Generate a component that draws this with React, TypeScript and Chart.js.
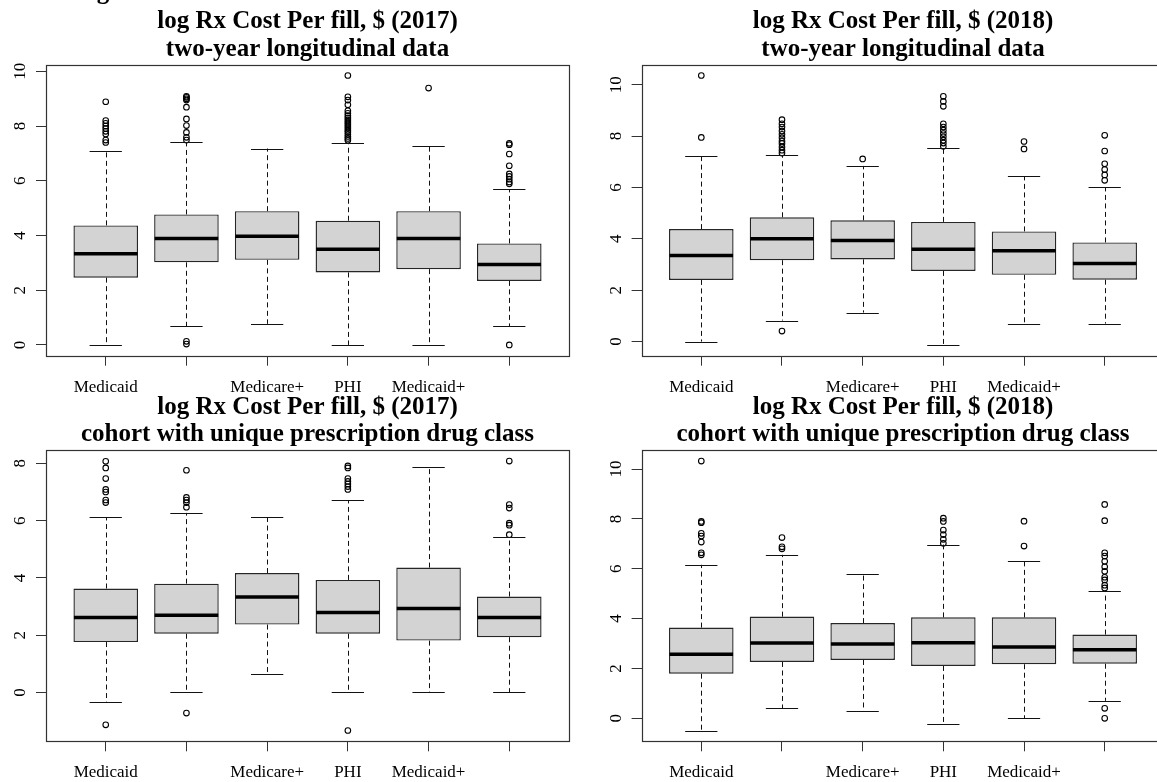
import React, { useEffect, useRef } from 'react';
import { Chart, registerables } from 'chart.js';

Chart.register(...registerables);

// ---------- data ----------
const categories = ['Medicaid', '', 'Medicare+', 'PHI', 'Medicaid+', ''];
const positions = [1, 2, 3, 4, 5, 6];

const titleLine1_2017 = 'log Rx Cost Per fill, $ (2017)';
const titleLine1_2018 = 'log Rx Cost Per fill, $ (2018)';
const titleLine2_long = 'two-year longitudinal data';
const titleLine2_cohort = 'cohort with unique prescription drug class';
const croppedHeading = 'g';

const yTicksA = [0, 2, 4, 6, 8, 10];
const yTicksB = [0, 2, 4, 6, 8];

// Panel 1: 2017, two-year longitudinal
const p1Low = [0, 0.68, 0.77, 0, 0, 0.68];
const p1Q1 = [2.46, 3.02, 3.11, 2.65, 2.77, 2.34];
const p1Med = [3.33, 3.89, 3.97, 3.5, 3.89, 2.94];
const p1Q3 = [4.37, 4.77, 4.89, 4.54, 4.89, 3.71];
const p1High = [7.09, 7.41, 7.18, 7.38, 7.29, 5.69];
const p1Out = [
  [8.89, 8.2, 8.1, 8.0, 7.91, 7.81, 7.71, 7.49, 7.4],
  [9.09, 9.05, 9.0, 8.95, 8.69, 8.26, 8.02, 7.77, 7.59, 7.49, 0.13, 0.03],
  [],
  [9.85, 9.07, 8.95, 8.78, 8.56, 8.47, 8.38, 8.3, 8.22, 8.15, 8.08, 8.0, 7.93, 7.85, 7.78, 7.7, 7.62, 7.55, 7.48],
  [9.39],
  [7.37, 7.32, 6.98, 6.55, 6.25, 6.16, 6.06, 5.96, 5.89, 0],
];

// Panel 2: 2018, two-year longitudinal
const p2Low = [0, 0.82, 1.13, -0.13, 0.7, 0.7];
const p2Q1 = [2.4, 3.17, 3.2, 2.75, 2.6, 2.41];
const p2Med = [3.35, 4.0, 3.94, 3.59, 3.54, 3.04];
const p2Q3 = [4.38, 4.84, 4.72, 4.66, 4.29, 3.86];
const p2High = [7.21, 7.25, 6.84, 7.54, 6.44, 6.01];
const p2Out = [
  [10.36, 7.95],
  [8.64, 8.48, 8.35, 8.2, 8.07, 7.94, 7.81, 7.71, 7.58, 7.45, 7.34, 0.41],
  [7.11],
  [9.55, 9.35, 9.16, 8.48, 8.35, 8.23, 8.1, 7.97, 7.84, 7.73, 7.6],
  [7.79, 7.5],
  [8.03, 7.42, 6.92, 6.7, 6.49, 6.28],
];

// Panel 3: 2017, cohort with unique class
const p3Low = [-0.33, 0, 0.66, 0, 0, 0];
const p3Q1 = [1.76, 2.05, 2.37, 2.05, 1.81, 1.93];
const p3Med = [2.62, 2.7, 3.33, 2.79, 2.93, 2.62];
const p3Q3 = [3.63, 3.8, 4.17, 3.93, 4.36, 3.35];
const p3High = [6.12, 6.27, 6.12, 6.72, 7.88, 5.42];
const p3Out = [
  [8.07, 7.84, 7.47, 7.09, 7.0, 6.72, 6.63, -1.13],
  [7.76, 6.81, 6.72, 6.63, 6.47, -0.72],
  [],
  [7.91, 7.84, 7.47, 7.37, 7.28, 7.19, 7.09, -1.33],
  [],
  [8.08, 6.56, 6.44, 5.91, 5.84, 5.51],
];

// Panel 4: 2018, cohort with unique class
const p4Low = [-0.49, 0.4, 0.28, -0.21, 0.01, 0.7];
const p4Q1 = [1.79, 2.26, 2.34, 2.1, 2.17, 2.19];
const p4Med = [2.57, 3.02, 2.98, 3.03, 2.86, 2.75];
const p4Q3 = [3.64, 4.08, 3.82, 4.05, 4.05, 3.36];
const p4High = [6.16, 6.56, 5.8, 6.97, 6.3, 5.11];
const p4Out = [
  [10.32, 7.9, 7.85, 7.42, 7.31, 7.07, 6.64, 6.56],
  [7.25, 6.88, 6.8],
  [],
  [8.03, 7.9, 7.55, 7.37, 7.18, 7.02],
  [7.91, 6.91],
  [8.58, 7.93, 6.64, 6.51, 6.3, 6.08, 5.9, 5.66, 5.55, 5.34, 5.23, 0.4, 0.0],
];

// ---------- layout ----------
type Panel = {
  t1: string;
  t2: string;
  yTicks: number[];
  low: number[];
  q1: number[];
  med: number[];
  q3: number[];
  high: number[];
  out: number[][];
  left: number;
  top: number;
  width: number;
  height: number;
  yW: number;
  padTop: number;
  padRight: number;
  fragment?: string;
};

const PLOT_H = 291;
const SERIF = '"Liberation Serif", "Times New Roman", serif';

const panels: Panel[] = [
  { t1: titleLine1_2017, t2: titleLine2_long, yTicks: yTicksA, low: p1Low, q1: p1Q1, med: p1Med, q3: p1Q3, high: p1High, out: p1Out,
    left: 0, top: 0, width: 578, height: 400, yW: 46, padTop: 64.7, padRight: 9, fragment: croppedHeading },
  { t1: titleLine1_2018, t2: titleLine2_long, yTicks: yTicksA, low: p2Low, q1: p2Q1, med: p2Med, q3: p2Q3, high: p2High, out: p2Out,
    left: 595, top: 0, width: 578, height: 400, yW: 46.6, padTop: 64.7, padRight: 8.6 },
  { t1: titleLine1_2017, t2: titleLine2_cohort, yTicks: yTicksB, low: p3Low, q1: p3Q1, med: p3Med, q3: p3Q3, high: p3High, out: p3Out,
    left: 0, top: 385, width: 578, height: 397, yW: 46, padTop: 65.3, padRight: 9 },
  { t1: titleLine1_2018, t2: titleLine2_cohort, yTicks: yTicksA, low: p4Low, q1: p4Q1, med: p4Med, q3: p4Q3, high: p4High, out: p4Out,
    left: 595, top: 385, width: 578, height: 397, yW: 46.6, padTop: 65.3, padRight: 8.6 },
];

function makePlugin(p: Panel) {
  return {
    id: 'rBoxStyle',
    afterDatasetsDraw(chart: any) {
      const { ctx, chartArea: a, scales } = chart;
      const x = scales.x;
      const y = scales.y;
      ctx.save();
      ctx.beginPath();
      ctx.rect(a.left, a.top, a.right - a.left, a.bottom - a.top);
      ctx.clip();
      positions.forEach((pos, i) => {
        const cx = Math.round(x.getPixelForValue(pos)) + 0.5;
        const capL = x.getPixelForValue(pos - 0.2);
        const capR = x.getPixelForValue(pos + 0.2);
        const boxL = x.getPixelForValue(pos - 0.4);
        const boxR = x.getPixelForValue(pos + 0.4);
        ctx.strokeStyle = '#111';
        ctx.lineWidth = 1;
        ctx.setLineDash([5, 3.5]);
        ctx.beginPath();
        ctx.moveTo(cx, y.getPixelForValue(p.q3[i]));
        ctx.lineTo(cx, y.getPixelForValue(p.high[i]));
        ctx.moveTo(cx, y.getPixelForValue(p.q1[i]));
        ctx.lineTo(cx, y.getPixelForValue(p.low[i]));
        ctx.stroke();
        ctx.setLineDash([]);
        ctx.lineWidth = 1.2;
        ctx.beginPath();
        const hy = Math.round(y.getPixelForValue(p.high[i])) + 0.5;
        const ly = Math.round(y.getPixelForValue(p.low[i])) + 0.5;
        ctx.moveTo(capL, hy);
        ctx.lineTo(capR, hy);
        ctx.moveTo(capL, ly);
        ctx.lineTo(capR, ly);
        ctx.stroke();
        ctx.strokeStyle = '#000';
        ctx.lineWidth = 3.5;
        ctx.beginPath();
        const my = y.getPixelForValue(p.med[i]);
        ctx.moveTo(boxL + 0.5, my);
        ctx.lineTo(boxR - 0.5, my);
        ctx.stroke();
      });
      ctx.restore();
    },
    afterDraw(chart: any) {
      const { ctx, chartArea: a, scales } = chart;
      const x = scales.x;
      const y = scales.y;
      ctx.save();
      // frame
      ctx.strokeStyle = '#333';
      ctx.lineWidth = 1.2;
      const L = Math.round(a.left) + 0.5;
      const T = Math.round(a.top) + 0.5;
      const R = Math.round(a.right) + 0.5;
      const B = Math.round(a.bottom) + 0.5;
      ctx.strokeRect(L, T, R - L, B - T);
      // titles
      ctx.fillStyle = '#000';
      ctx.font = `bold 25px ${SERIF}`;
      ctx.textAlign = 'center';
      ctx.textBaseline = 'alphabetic';
      const cxm = (a.left + a.right) / 2;
      ctx.fillText(p.t1, cxm, a.top - 36.5);
      ctx.fillText(p.t2, cxm, a.top - 9);
      if (p.fragment) {
        ctx.fillText(p.fragment, 103, -1.5);
      }
      // y tick labels (rotated, R style)
      ctx.font = `17px ${SERIF}`;
      y.ticks.forEach((t: any) => {
        const py = y.getPixelForValue(t.value);
        ctx.save();
        ctx.translate(a.left - 21, py);
        ctx.rotate(-Math.PI / 2);
        ctx.textAlign = 'center';
        ctx.fillText(String(t.value), 0, 0);
        ctx.restore();
      });
      // x tick labels
      x.ticks.forEach((t: any) => {
        const label = categories[Math.round(t.value) - 1];
        if (!label) return;
        const px = x.getPixelForValue(t.value);
        ctx.textAlign = 'center';
        ctx.fillText(label, px, a.bottom + 36);
      });
      ctx.restore();
    },
  };
}

function PanelChart({ p }: { p: Panel }) {
  const ref = useRef<HTMLCanvasElement | null>(null);
  useEffect(() => {
    if (!ref.current) return;
    const all: number[] = [];
    p.low.forEach((v) => all.push(v));
    p.high.forEach((v) => all.push(v));
    p.out.forEach((g) => g.forEach((v) => all.push(v)));
    const mn = Math.min(...all);
    const mx = Math.max(...all);
    const pad = (mx - mn) * 0.04;
    const xPad = positions.length * 0.04;
    const boxes = positions.map((pos, i) => ({ x: pos, y: [p.q1[i], p.q3[i]] }));
    const outliers: { x: number; y: number }[] = [];
    p.out.forEach((g, i) => g.forEach((v) => outliers.push({ x: positions[i], y: v })));
    const xH = p.height - p.padTop - PLOT_H;
    const chart = new Chart(ref.current, {
      type: 'bar',
      data: {
        datasets: [
          {
            type: 'bar',
            data: boxes as any,
            backgroundColor: '#d3d3d3',
            borderColor: '#262626',
            borderWidth: 1.4,
            borderSkipped: false,
            barPercentage: 0.8,
            categoryPercentage: 1,
          } as any,
          {
            type: 'scatter',
            data: outliers as any,
            pointRadius: 2.8,
            pointBorderWidth: 1.1,
            borderColor: '#000',
            backgroundColor: 'rgba(0,0,0,0)',
            pointStyle: 'circle',
            showLine: false,
          } as any,
        ],
      },
      options: {
        responsive: false,
        maintainAspectRatio: false,
        animation: false,
        events: [],
        layout: { padding: { top: p.padTop, right: p.padRight, left: 0, bottom: 0 } },
        plugins: { legend: { display: false }, tooltip: { enabled: false }, title: { display: false } },
        scales: {
          x: {
            type: 'linear',
            min: 0.5 - xPad,
            max: positions.length + 0.5 + xPad,
            offset: false,
            border: { display: false },
            grid: { display: true, drawOnChartArea: false, drawTicks: true, tickLength: 10, color: '#333', lineWidth: 1, offset: false },
            ticks: { display: false },
            afterBuildTicks: (s: any) => { s.ticks = positions.map((v) => ({ value: v })); },
            afterFit: (s: any) => { s.height = xH; },
          },
          y: {
            type: 'linear',
            min: mn - pad,
            max: mx + pad,
            border: { display: false },
            grid: { display: true, drawOnChartArea: false, drawTicks: true, tickLength: 10, color: '#333', lineWidth: 1 },
            ticks: { display: false },
            afterBuildTicks: (s: any) => { s.ticks = p.yTicks.map((v) => ({ value: v })); },
            afterFit: (s: any) => { s.width = p.yW; },
          },
        },
      } as any,
      plugins: [makePlugin(p)],
    });
    return () => chart.destroy();
  }, [p]);
  return (
    <canvas
      ref={ref}
      width={p.width}
      height={p.height}
      style={{ position: 'absolute', left: p.left, top: p.top, width: p.width, height: p.height }}
    />
  );
}

export default function App() {
  return (
    <div style={{ position: 'absolute', left: 0, top: 0, width: 1157, height: 782, overflow: 'hidden', background: '#fff' }}>
      {panels.map((p, i) => (
        <PanelChart key={i} p={p} />
      ))}
    </div>
  );
}
